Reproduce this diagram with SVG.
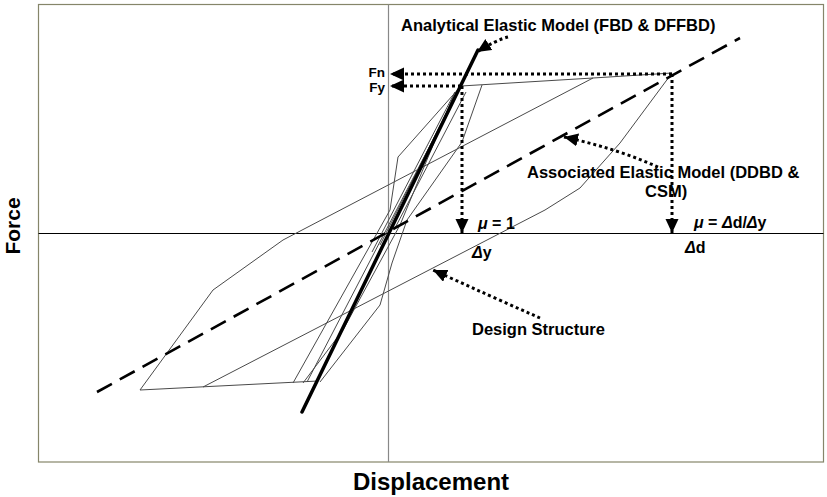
<svg xmlns="http://www.w3.org/2000/svg" width="827" height="497" viewBox="0 0 827 497">
<style>
.t{font-family:"Liberation Sans",Arial,sans-serif;font-weight:bold;fill:#000}
.lbl{font-size:16.5px}
.sym{font-size:16px}
.thin{fill:none;stroke:#4a4a4a;stroke-width:1}
.dot{fill:none;stroke:#000;stroke-width:3;stroke-dasharray:3 3}
</style>
<defs>
<marker id="ah" markerUnits="userSpaceOnUse" markerWidth="15" markerHeight="14" refX="14" refY="6.5" orient="auto">
<path d="M0,0 L14,6.5 L0,13 z" fill="#000"/>
</marker>
</defs>
<rect width="827" height="497" fill="#fff"/>
<g id="frame">
<rect x="38.5" y="4.5" width="785" height="457.5" fill="none" stroke="#85856a" stroke-width="1.2"/>
</g>
<g id="axes">
<line x1="388.5" y1="4.5" x2="388.5" y2="462" stroke="#888" stroke-width="1.2"/>
<line x1="38.5" y1="233.5" x2="823.5" y2="233.5" stroke="#000" stroke-width="1"/>
</g>
<g id="hysteresis">
<polyline class="thin" points="672,73 620,143 580,188 545,210 203,387"/>
<polyline class="thin" points="140,390 318,381"/>
<polyline class="thin" points="140,390 213,290 283,240 593,78 672,73"/>
<polyline class="thin" points="461,86 593,78"/>
<polyline class="thin" points="293,383 390,210 398,157 461,86"/>
<polyline class="thin" points="307,382 461,86"/>
<polyline class="thin" points="320,382 380,305 392,263 407,220 462,142 482,85"/>
<polyline class="thin" points="303,383 343,330 400,225 455,92"/>
<polyline class="thin" points="380,245 458,90"/>
<polyline class="thin" points="395,228 466,92"/>
<polyline class="thin" points="372,252 455,92"/>
</g>
<g id="associated-model">
<line x1="97" y1="392" x2="740" y2="38" stroke="#000" stroke-width="2.6" stroke-dasharray="17 9"/>
</g>
<g id="analytical-model">
<line x1="302" y1="412" x2="478" y2="50" stroke="#000" stroke-width="3.5" stroke-linecap="round"/>
</g>
<g id="connectors">
<line class="dot" x1="672" y1="74" x2="390" y2="74" marker-end="url(#ah)"/>
<line class="dot" x1="461" y1="86" x2="390" y2="86" marker-end="url(#ah)"/>
<line class="dot" x1="462" y1="86" x2="462" y2="233" marker-end="url(#ah)"/>
<line class="dot" x1="672" y1="74" x2="672" y2="233" marker-end="url(#ah)"/>
<path class="dot" d="M508,37 Q496,40 477,52" marker-end="url(#ah)"/>
<path class="dot" d="M658,167 Q615,148 564,137" marker-end="url(#ah)"/>
<path class="dot" d="M540,318 Q490,296 433,270" marker-end="url(#ah)"/>
</g>
<g id="labels">
<text class="t lbl" x="401" y="31">Analytical Elastic Model (FBD &amp; DFFBD)</text>
<text class="t lbl" x="527" y="178">Associated Elastic Model (DDBD &amp;</text>
<text class="t lbl" x="645" y="197">CSM)</text>
<text class="t lbl" x="472" y="335">Design Structure</text>
<text class="t" font-size="13.5" x="385" y="77" text-anchor="end">Fn</text>
<text class="t" font-size="13.5" x="385" y="92" text-anchor="end">Fy</text>
<text class="t sym" x="478" y="229"><tspan font-style="italic">μ</tspan> = 1</text>
<text class="t sym" x="472" y="258"><tspan font-style="italic">Δ</tspan>y</text>
<text class="t sym" x="694" y="228"><tspan font-style="italic">μ</tspan> = <tspan font-style="italic">Δ</tspan>d/<tspan font-style="italic">Δ</tspan>y</text>
<text class="t sym" x="685" y="253"><tspan font-style="italic">Δ</tspan>d</text>
<text class="t" font-size="24" x="353" y="490">Displacement</text>
<text class="t" font-size="21" transform="translate(20,226) rotate(-90)" text-anchor="middle">Force</text>
</g>
</svg>
